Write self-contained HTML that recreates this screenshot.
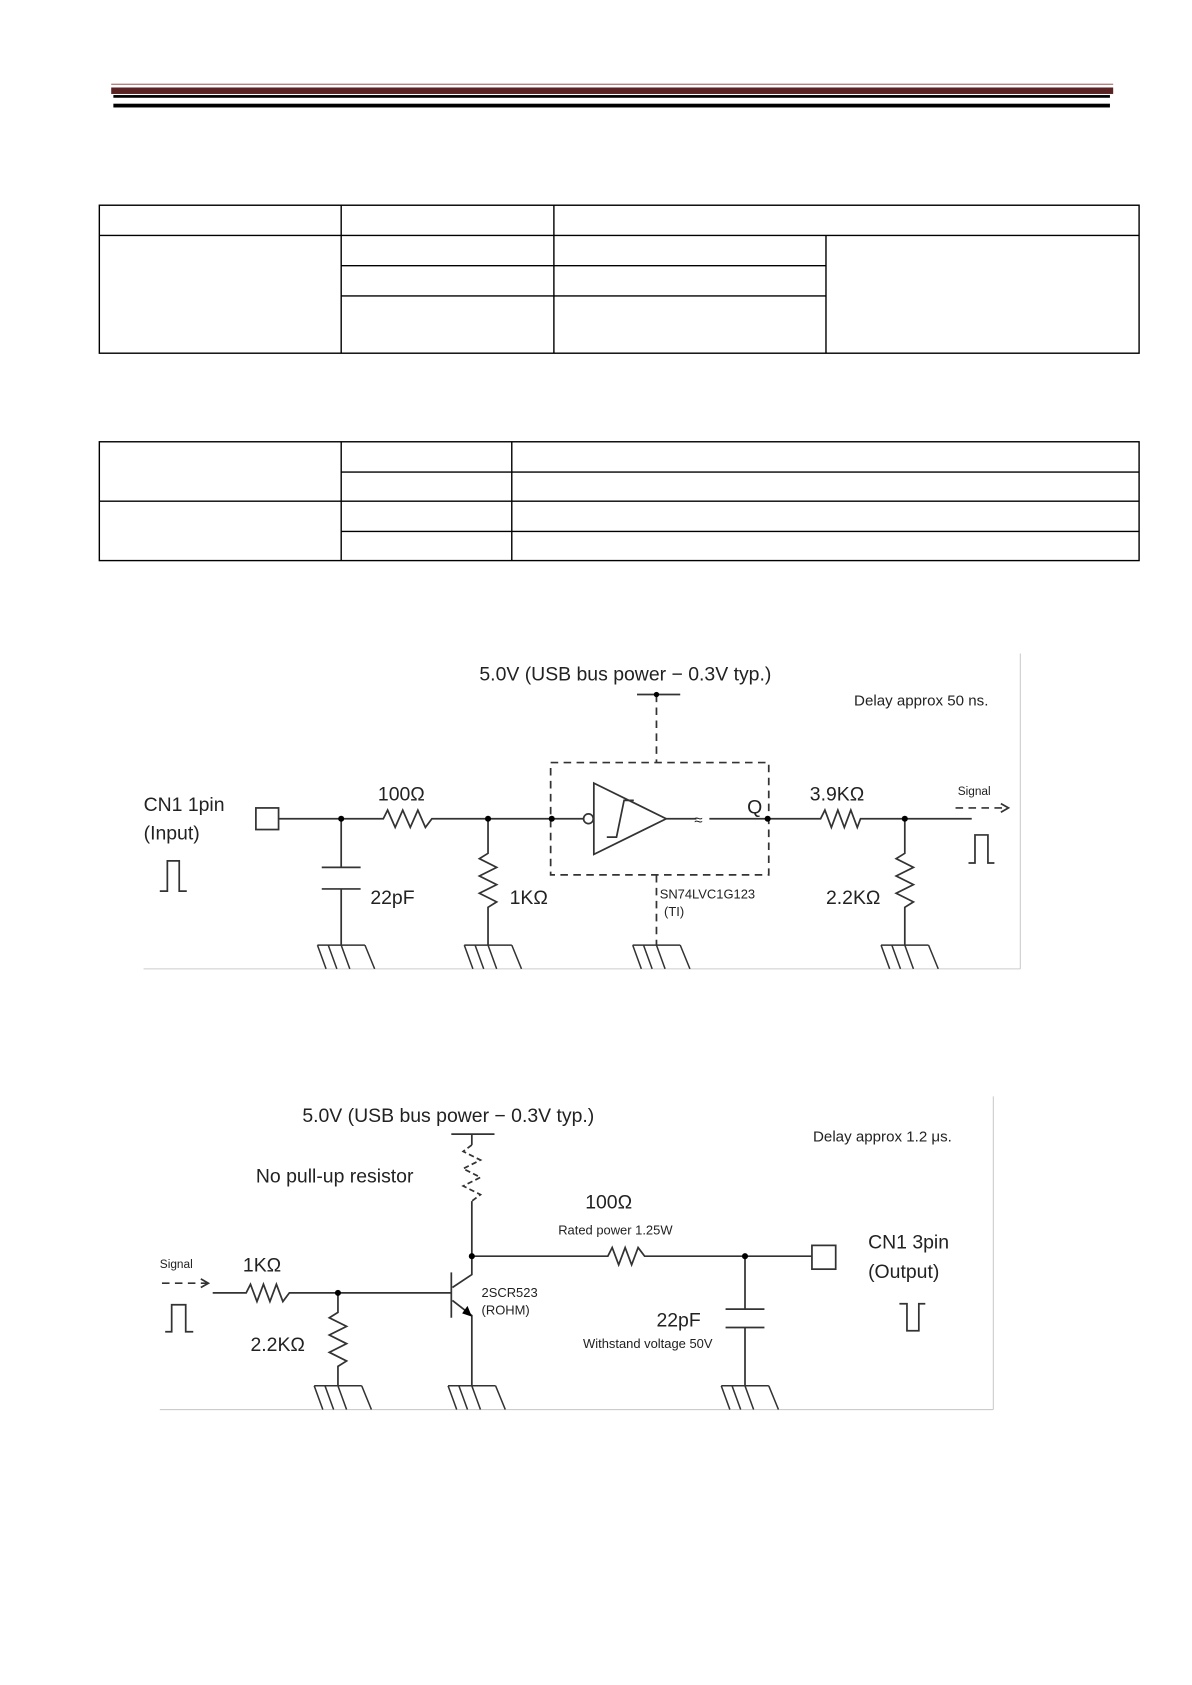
<!DOCTYPE html>
<html><head><meta charset="utf-8"><style>
html,body{margin:0;padding:0;background:#fff;}
svg{display:block}
text{font-family:"Liberation Sans",sans-serif;fill:#222}
</style></head><body>
<svg width="1192" height="1685" viewBox="0 0 1104 1560" preserveAspectRatio="none" xmlns="http://www.w3.org/2000/svg">
<!-- header -->
<rect x="103" y="77.5" width="928" height="1" fill="#a06060"/>
<rect x="103" y="81" width="928" height="6" fill="#5a2323"/>
<rect x="105" y="88" width="923" height="2.5" fill="#000"/>
<rect x="105" y="96" width="923" height="3.5" fill="#000"/>
<g stroke="#000" stroke-width="1.3" fill="none">
<!-- table 1 -->
<rect x="92" y="190" width="963" height="137"/>
<line x1="92" y1="218" x2="1055" y2="218"/>
<line x1="316" y1="246" x2="765" y2="246"/>
<line x1="316" y1="274" x2="765" y2="274"/>
<line x1="316" y1="190" x2="316" y2="327"/>
<line x1="513" y1="190" x2="513" y2="327"/>
<line x1="765" y1="218" x2="765" y2="327"/>
<!-- table 2 -->
<rect x="92" y="409" width="963" height="110"/>
<line x1="316" y1="437" x2="1055" y2="437"/>
<line x1="92" y1="464" x2="1055" y2="464"/>
<line x1="316" y1="492" x2="1055" y2="492"/>
<line x1="316" y1="409" x2="316" y2="519"/>
<line x1="474" y1="409" x2="474" y2="519"/>
</g>

<!-- circuit 1 -->
<g stroke="#ccc" stroke-width="1" fill="none">
<line x1="133" y1="897" x2="945" y2="897"/><line x1="945" y1="605" x2="945" y2="897"/>
</g>
<g stroke="#333" stroke-width="1.6" fill="none">
<line x1="590" y1="643" x2="630" y2="643"/>
<line x1="608" y1="643" x2="608" y2="706" stroke-dasharray="7,5"/>
<rect x="510" y="706" width="202" height="104" stroke-dasharray="7,5"/>
<line x1="608" y1="810" x2="608" y2="875" stroke-dasharray="7,5"/>
<rect x="237" y="748" width="21" height="20"/>
<polyline points="258,758 355,758 359,750 366,766 373,750 380,766 387,750 394,766 400,758 540,758"/>
<circle cx="545" cy="758" r="4.5"/>
<polygon points="550,725 617,758 550,791"/>
<polyline points="562,775 571,775 578,741 587,741"/>
<line x1="617" y1="758" x2="645" y2="758"/>
<text x="643" y="764" style="font-size:14px" stroke="none">≈</text>
<polyline points="657,758 760,758 764,750 770,766 776,750 782,766 788,750 794,766 797,758 900,758"/>
<polyline points="316,758 316,803"/><line x1="298" y1="803" x2="334" y2="803"/><line x1="298" y1="823" x2="334" y2="823"/><line x1="316" y1="823" x2="316" y2="875"/>
<polyline points="452,758 452,790 444,795 460,803 444,811 460,819 444,827 460,835 452,840 452,875"/>
<polyline points="838,758 838,790 830,795 846,803 830,811 846,819 830,827 846,835 838,840 838,875"/>
<polyline points="148,825 155,825 155,797 166,797 166,825 173,825"/>
<polyline points="897,799 903,799 903,773 915,773 915,799 921,799"/>
<line x1="885" y1="748" x2="933" y2="748" stroke-dasharray="7,5"/>
<polyline points="927,744 934,748 927,752"/>
</g>
<g fill="#000">
<circle cx="316" cy="758" r="2.8"/><circle cx="452" cy="758" r="2.8"/><circle cx="511" cy="758" r="2.8"/><circle cx="711" cy="758" r="2.8"/><circle cx="838" cy="758" r="2.8"/><circle cx="608" cy="643" r="2.5"/>
</g>
<g stroke="#333" stroke-width="1.4" fill="none">
<path d="M294 875 H338 M294 875 L302 897 M304 875 L312 897 M316 875 L324 897 M338 875 L347 897"/>
<path d="M430 875 H474 M430 875 L438 897 M440 875 L448 897 M452 875 L460 897 M474 875 L483 897"/>
<path d="M586 875 H630 M586 875 L594 897 M596 875 L604 897 M608 875 L616 897 M630 875 L639 897"/>
<path d="M816 875 H860 M816 875 L824 897 M826 875 L834 897 M838 875 L846 897 M860 875 L869 897"/>
</g>
<g style="font-size:18px">
<text x="444" y="630">5.0V (USB bus power − 0.3V typ.)</text>
<text x="133" y="751">CN1 1pin</text>
<text x="133" y="777">(Input)</text>
<text x="350" y="741">100Ω</text>
<text x="343" y="837">22pF</text>
<text x="472" y="837">1KΩ</text>
<text x="692" y="753">Q</text>
<text x="750" y="741">3.9KΩ</text>
<text x="765" y="837">2.2KΩ</text>
</g>
<text x="791" y="653" style="font-size:14px">Delay approx 50 ns.</text>
<text x="611" y="832" style="font-size:12px">SN74LVC1G123</text>
<text x="615" y="848" style="font-size:12px">(TI)</text>
<text x="887" y="736" style="font-size:11px">Signal</text>

<!-- circuit 2 -->
<g stroke="#ccc" stroke-width="1" fill="none">
<line x1="148" y1="1305" x2="920" y2="1305"/><line x1="920" y1="1015" x2="920" y2="1305"/>
</g>
<g stroke="#333" stroke-width="1.6" fill="none">
<line x1="418" y1="1050" x2="458" y2="1050"/>
<line x1="437" y1="1050" x2="437" y2="1060"/>
<polyline points="437,1060 429,1066 445,1074 429,1082 445,1090 429,1098 445,1106 437,1112" stroke-dasharray="5,3"/>
<polyline points="437,1112 437,1180 419,1192"/>
<line x1="418" y1="1178" x2="418" y2="1220"/>
<polyline points="419,1204 437,1218 437,1283"/>
<polyline points="437,1163 563,1163 567,1155 573,1171 579,1155 585,1171 591,1155 597,1163 752,1163"/>
<rect x="752" y="1153" width="22" height="22"/>
<line x1="690" y1="1163" x2="690" y2="1212"/><line x1="672" y1="1212" x2="708" y2="1212"/><line x1="672" y1="1229" x2="708" y2="1229"/><line x1="690" y1="1229" x2="690" y2="1283"/>
<polyline points="197,1197 228,1197 232,1189 238,1205 244,1189 250,1205 256,1189 262,1205 268,1197 418,1197"/>
<polyline points="313,1197 313,1215 305,1220 321,1228 305,1236 321,1244 305,1252 321,1260 313,1265 313,1283"/>
<line x1="150" y1="1188" x2="192" y2="1188" stroke-dasharray="7,5"/>
<polyline points="186,1184 193,1188 186,1192"/>
<polyline points="153,1233 159,1233 159,1208 172,1208 172,1233 179,1233"/>
<polyline points="833,1207 840,1207 840,1232 851,1232 851,1207 857,1207"/>
</g>
<polygon points="437,1219 428,1216 433,1209" fill="#000"/>
<g fill="#000"><circle cx="437" cy="1163" r="2.8"/><circle cx="690" cy="1163" r="2.8"/><circle cx="313" cy="1197" r="2.8"/></g>
<g stroke="#333" stroke-width="1.4" fill="none">
<path d="M291 1283 H335 M291 1283 L299 1305 M301 1283 L309 1305 M313 1283 L321 1305 M335 1283 L344 1305"/>
<path d="M415 1283 H459 M415 1283 L423 1305 M425 1283 L433 1305 M437 1283 L445 1305 M459 1283 L468 1305"/>
<path d="M668 1283 H712 M668 1283 L676 1305 M678 1283 L686 1305 M690 1283 L698 1305 M712 1283 L721 1305"/>
</g>
<g style="font-size:18px">
<text x="280" y="1039">5.0V (USB bus power − 0.3V typ.)</text>
<text x="237" y="1095">No pull-up resistor</text>
<text x="542" y="1119">100Ω</text>
<text x="804" y="1156">CN1 3pin</text>
<text x="804" y="1183">(Output)</text>
<text x="225" y="1177">1KΩ</text>
<text x="232" y="1251">2.2KΩ</text>
<text x="608" y="1228">22pF</text>
</g>
<text x="753" y="1057" style="font-size:14px">Delay approx 1.2 μs.</text>
<text x="517" y="1143" style="font-size:12px">Rated power 1.25W</text>
<text x="540" y="1248" style="font-size:12px">Withstand voltage 50V</text>
<text x="446" y="1201" style="font-size:12px">2SCR523</text>
<text x="446" y="1217" style="font-size:12px">(ROHM)</text>
<text x="148" y="1174" style="font-size:11px">Signal</text>
</svg>
</body></html>
